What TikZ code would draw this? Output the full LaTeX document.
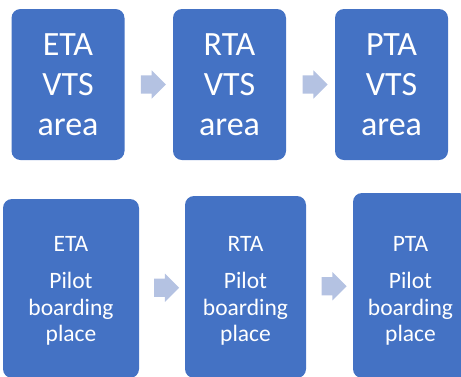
\documentclass[tikz,border=0pt]{standalone}
\usepackage{fontspec}
\setmainfont{Carlito}
\usepackage{xcolor}
\usepackage{tikz}
\usetikzlibrary{shapes.arrows}
\usetikzlibrary{calc}
\definecolor{boxblue}{HTML}{4472C4}
\definecolor{arrowblue}{HTML}{B4C2E2}
\tikzset{
    stagebox/.style = {rectangle, rounded corners=9pt, fill=boxblue, draw=none, text=white, align=center, inner sep=0pt},
    vts_box/.style = {stagebox, minimum width=113pt, minimum height=151pt, font=\fontsize{34}{40}\selectfont},
    pilot_box/.style = {stagebox},
    pilot_text/.style = {text=white, align=center, inner sep=0pt, font=\fontsize{23.5}{26.5}\selectfont},
    flow/.style = {single arrow, fill=arrowblue, draw=none, inner xsep=0pt, inner ysep=9pt, minimum width=28pt, minimum height=25pt, single arrow head extend=5pt, single arrow head indent=0pt}
}

\begin{document}
\begin{tikzpicture}[x=1pt, y=1pt]
    \useasboundingbox (0,0) rectangle (461,-376);
    \clip (0,0) rectangle (461,-376);

    % VTS area row
    \node [vts_box] (eta_vts) at (68,-84.5) {ETA\\VTS\\area};
    \node [vts_box] (rta_vts) at (229.5,-84.5) {RTA\\VTS\\area};
    \node [vts_box] (pta_vts) at (391.5,-84.5) {PTA\\VTS\\area};

    \node [flow] (vts_ab) at ($(eta_vts.east)!0.5!(rta_vts.west)$) {};
    \node [flow] (vts_bc) at ($(rta_vts.east)!0.5!(pta_vts.west)$) {};

    % pilot boarding place row
    \node [pilot_box, minimum width=136pt, minimum height=179pt] (eta_pbp) at (71,-288.5) {};
    \node [pilot_box, minimum width=121pt, minimum height=182pt] (rta_pbp) at (245.5,-287) {};
    \node [pilot_box, minimum width=115pt, minimum height=185pt] (pta_pbp) at (410.5,-285.5) {};

    \node [pilot_text] (eta_txt) at (eta_pbp.center |- 0,-291) {ETA\\[11pt]Pilot\\boarding\\place};
    \node [pilot_text] (rta_txt) at (rta_pbp.center |- 0,-291) {RTA\\[11pt]Pilot\\boarding\\place};
    \node [pilot_text] (pta_txt) at (pta_pbp.center |- 0,-291) {PTA\\[11pt]Pilot\\boarding\\place};

    \node [flow] (pbp_ab) at ($(eta_pbp.east)!0.5!(rta_pbp.west)$) {};
    \node [flow] (pbp_bc) at ($(rta_pbp.east)!0.5!(pta_pbp.west)$) {};
\end{tikzpicture}
\end{document}
